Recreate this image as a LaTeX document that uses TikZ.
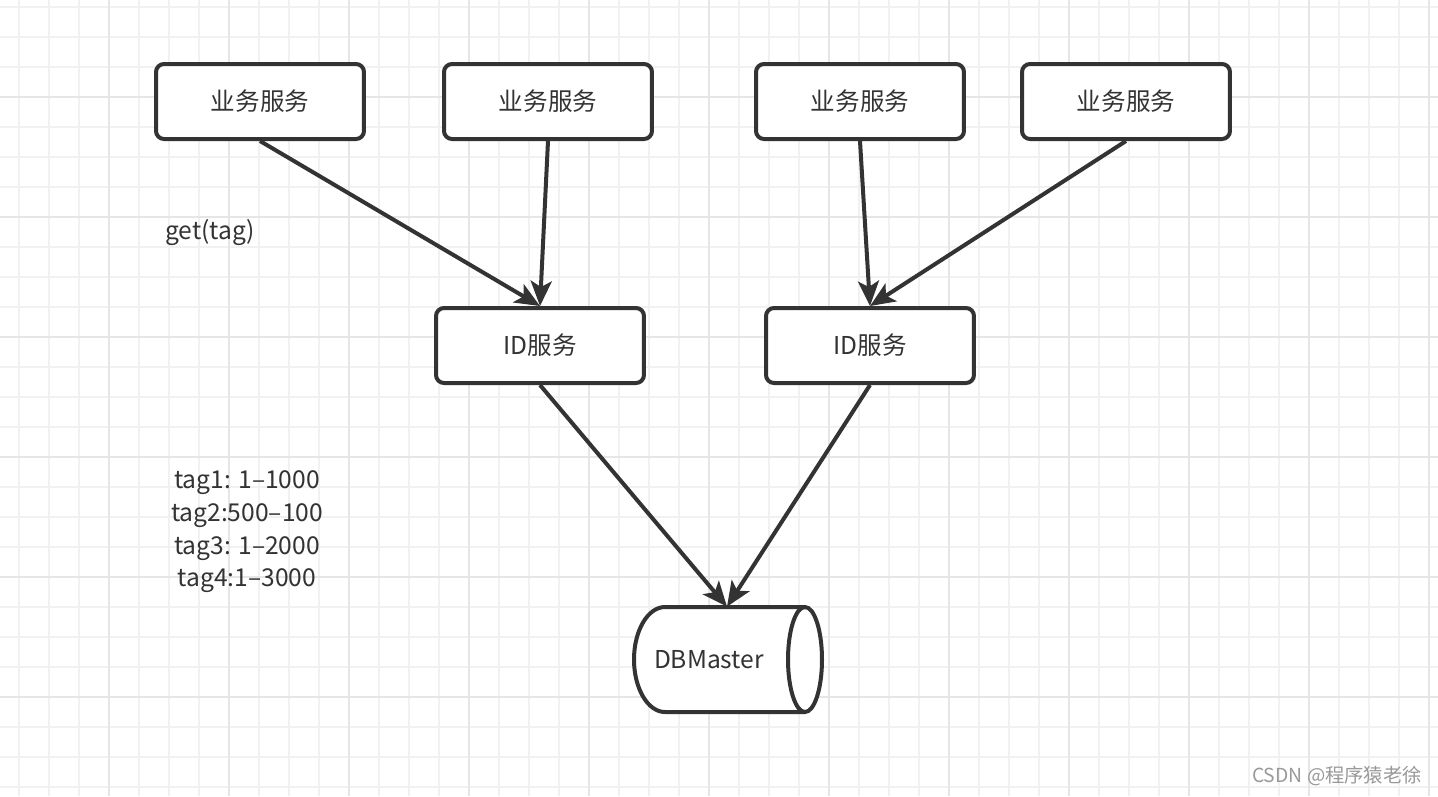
\documentclass[tikz,border=0pt]{standalone}
\usepackage{fontspec}
\setmainfont{Noto Sans CJK SC}
\usepackage{xcolor}
\usetikzlibrary{arrows.meta,positioning}
\definecolor{linecol}{HTML}{333333}
\definecolor{gridlo}{HTML}{F1F1F1}
\definecolor{gridhi}{HTML}{E6E6E6}

\begin{document}
\begin{tikzpicture}[x=0.02cm,y=-0.02cm,
  svc/.style={draw=linecol,line width=0.08cm,rounded corners=0.16cm,fill=white,
    minimum width=4.16cm,minimum height=1.5cm,text=linecol,font=\fontsize{14}{17}\selectfont},
  flow/.style={draw=linecol,line width=0.08cm,
    -{Stealth[length=0.5cm,width=0.42cm,inset=0.12cm]}},
  note/.style={text=linecol,font=\fontsize{14}{18.6}\selectfont,align=center}]
 % background grid
 \fill[white] (0,0) rectangle (1438,796);
 \useasboundingbox (0,0) rectangle (1438,796);
 \foreach \i in {0,...,47} \draw[gridlo,line width=0.04cm] ({19+30*\i},0) -- ({19+30*\i},796);
 \foreach \j in {0,...,26} \draw[gridlo,line width=0.04cm] (0,{7+30*\j}) -- (1438,{7+30*\j});
 \foreach \i in {0,...,11} \draw[gridhi,line width=0.05cm] ({109+120*\i},0) -- ({109+120*\i},796);
 \foreach \j in {0,...,6} \draw[gridhi,line width=0.05cm] (0,{97+120*\j}) -- (1438,{97+120*\j});

 % business services
 \node[svc] (biz1) at (260,101.5) {业务服务};
 \node[svc] (biz2) at (548,101.5) {业务服务};
 \node[svc] (biz3) at (860,101.5) {业务服务};
 \node[svc] (biz4) at (1126,101.5) {业务服务};

 % id services
 \node[svc] (id1) at (540,345.5) {ID服务};
 \node[svc] (id2) at (870,345.5) {ID服务};

 % database (cylinder lying on its side)
 \node[minimum width=3.74cm,minimum height=2.1cm,inner sep=0pt] (db) at (727,659.5) {};
 \draw[linecol,line width=0.08cm,fill=white] (665,607) -- (805,607)
   arc[start angle=-90,end angle=90,x radius=17,y radius=52.5] -- (665,712)
   arc[start angle=90,end angle=270,x radius=31,y radius=52.5] -- cycle;
 \draw[linecol,line width=0.08cm] (805,607) arc[start angle=-90,end angle=-270,x radius=17,y radius=52.5];
 \node[text=linecol,font=\fontsize{14}{17}\selectfont] (dblabel) at (709,659.5) {DBMaster};

 \draw[flow] (biz1.south) -- (id1.north);
 \draw[flow] (biz2.south) -- (id1.north);
 \draw[flow] (biz3.south) -- (id2.north);
 \draw[flow] (biz4.south) -- (id2.north);
 \draw[flow] (id1.south) -- (db.north);
 \draw[flow] (id2.south) -- (db.north);

 \node[note] (call) at (210,233) {get(tag)};
 \node[note] (tags) at (247,532) {tag1: 1--1000\\tag2:500--100\\tag3: 1--2000\\tag4:1--3000};

 \node[text=gray!80,font=\fontsize{11}{13}\selectfont] (mark) at (1337,776) {CSDN @程序猿老徐};
\end{tikzpicture}
\end{document}
